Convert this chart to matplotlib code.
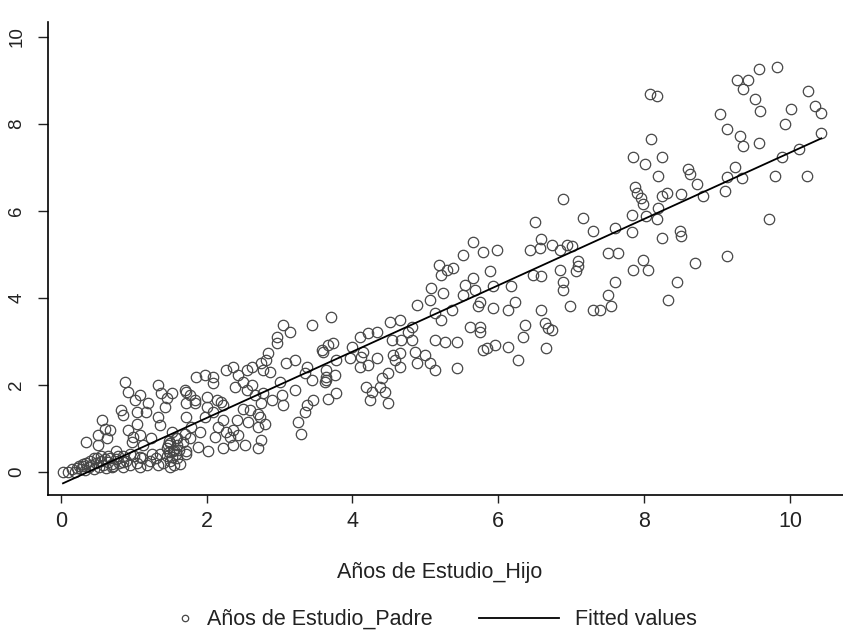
import matplotlib
matplotlib.use('Agg')
import matplotlib.pyplot as plt
import numpy as np
from matplotlib.lines import Line2D

plt.rcParams['font.family'] = ['Liberation Sans', 'DejaVu Sans']

# Años de Estudio_Hijo (x) / Años de Estudio_Padre (y), read region by region
hijo_a = [0.03, 0.1, 0.15, 0.2, 0.22, 0.27, 0.3, 0.33, 0.38, 0.42, 0.45, 0.48, 0.52, 0.55, 0.58,
          0.62, 0.65, 0.68, 0.72, 0.75, 0.8, 0.85, 0.9, 0.95, 1.0, 1.05, 1.12, 1.18, 1.25, 1.3,
          1.4, 1.45, 1.48, 1.5, 1.55, 1.58, 1.6, 0.45, 0.55, 0.4, 0.3, 0.65, 0.85, 0.7,
          1.45, 1.5, 1.55, 1.6, 1.48, 1.58, 1.62, 0.5, 0.6, 0.7, 0.78, 0.35, 0.25]
padre_a = [0.0, 0.0, 0.05, 0.0, 0.08, 0.05, 0.12, 0.03, 0.1, 0.15, 0.05, 0.2, 0.1, 0.25, 0.15,
           0.08, 0.22, 0.3, 0.12, 0.28, 0.2, 0.1, 0.25, 0.15, 0.35, 0.2, 0.3, 0.15, 0.4, 0.3,
           0.2, 0.35, 0.45, 0.25, 0.15, 0.4, 0.3, 0.3, 0.35, 0.25, 0.18, 0.35, 0.35, 0.1,
           0.55, 0.65, 0.5, 0.6, 0.7, 0.78, 0.5, 0.3, 0.28, 0.18, 0.35, 0.2, 0.12]

hijo_b = [0.35, 0.51, 0.56, 0.6, 0.67, 0.51, 0.63, 0.88, 0.92, 1.02, 1.08, 0.83, 0.85, 1.04, 1.19,
          1.17, 0.92, 1.04, 0.99, 1.08, 0.97, 1.13, 1.24, 1.33, 1.38, 1.45, 1.52, 1.43, 1.72, 1.33,
          1.36, 1.52, 1.59, 1.7, 1.68, 1.47, 1.36, 1.52, 1.22, 1.08, 0.95, 0.85, 0.76, 1.08, 1.33,
          1.54, 1.63, 1.72, 1.5]
padre_b = [0.68, 0.6, 1.18, 0.99, 0.95, 0.83, 0.76, 2.06, 1.83, 1.64, 1.75, 1.41, 1.29, 1.37, 1.57,
           1.37, 0.95, 1.1, 0.79, 0.83, 0.68, 0.6, 0.76, 1.99, 1.8, 1.69, 1.8, 1.49, 1.83, 1.25,
           1.06, 0.91, 0.76, 0.87, 0.68, 0.6, 0.41, 0.33, 0.25, 0.33, 0.41, 0.21, 0.48, 0.1, 0.14,
           0.48, 0.18, 0.41, 0.1]

hijo_c = [3.05, 3.14, 3.44, 2.96, 2.96, 3.66, 3.73, 3.6, 2.84, 2.82, 2.75, 2.77, 2.87, 3.09, 3.21,
          3.37, 3.35, 3.44, 3.64, 3.78, 3.64, 2.27, 2.36, 2.55, 2.62, 2.43, 2.5, 1.86, 1.98, 2.09,
          2.09, 1.7, 1.77, 1.84, 2.0, 2.14, 2.2, 2.39, 2.55, 2.62, 2.66, 2.77, 2.75, 2.89, 3.0,
          3.03, 3.21, 3.46, 3.37, 3.66, 3.78, 3.05, 3.35, 3.25, 3.3, 2.5, 2.59, 2.7, 2.22, 2.22,
          2.41, 2.57, 2.73, 2.8, 2.7, 2.15, 2.11, 2.27, 2.36, 2.32, 2.43, 2.52, 2.36, 2.22, 2.75,
          2.7, 1.72, 1.72, 1.79, 1.91, 1.77, 1.88, 1.72, 2.02, 1.84, 2.0, 1.98, 2.09]
padre_c = [3.37, 3.22, 3.37, 3.1, 2.95, 2.91, 2.95, 2.75, 2.72, 2.56, 2.49, 2.33, 2.29, 2.49, 2.56,
           2.41, 2.26, 2.1, 2.33, 2.56, 2.1, 2.33, 2.41, 2.33, 2.41, 2.22, 2.06, 2.18, 2.22, 2.18,
           2.03, 1.87, 1.76, 1.64, 1.72, 1.64, 1.6, 1.95, 1.87, 1.99, 1.76, 1.8, 1.57, 1.64, 2.06,
           1.76, 1.87, 1.64, 1.52, 1.68, 1.8, 1.52, 1.37, 1.14, 0.87, 1.45, 1.41, 1.33, 1.52, 1.18,
           1.18, 1.14, 1.26, 1.1, 1.02, 1.02, 0.79, 0.91, 0.95, 0.79, 0.83, 0.6, 0.6, 0.53, 0.72,
           0.53, 1.57, 1.25, 1.02, 0.91, 0.76, 0.56, 0.48, 0.48, 1.57, 1.49, 1.25, 1.37]

hijo_d = [5.18, 5.29, 5.38, 5.22, 5.08, 5.24, 5.06, 4.88, 5.13, 5.22, 5.36, 3.71, 4.51, 4.65, 4.81,
          4.76, 4.33, 4.21, 4.1, 4.54, 4.67, 4.81, 5.13, 5.27, 5.43, 3.58, 3.99, 4.14, 4.12, 3.96,
          4.33, 4.56, 4.65, 4.86, 4.99, 4.88, 5.06, 5.13, 5.43, 4.65, 4.58, 4.1, 4.21, 4.49, 4.4,
          3.64, 3.76, 3.62, 4.19, 4.38, 4.44, 4.27, 4.24, 4.49]
padre_d = [4.76, 4.64, 4.69, 4.53, 4.22, 4.11, 3.95, 3.83, 3.65, 3.49, 3.72, 3.56, 3.45, 3.49, 3.33,
           3.22, 3.22, 3.19, 3.1, 3.03, 3.03, 3.03, 3.03, 2.99, 2.99, 2.8, 2.87, 2.75, 2.64, 2.61,
           2.61, 2.68, 2.72, 2.75, 2.68, 2.49, 2.49, 2.33, 2.38, 2.41, 2.56, 2.41, 2.45, 2.26, 2.15,
           2.18, 2.22, 2.06, 1.95, 1.95, 1.83, 1.83, 1.64, 1.57]

hijo_e = [6.89, 6.5, 7.16, 7.3, 5.65, 5.79, 5.98, 5.51, 6.43, 6.57, 6.59, 6.73, 6.85, 6.94, 7.01,
          7.09, 7.09, 7.07, 5.88, 5.65, 6.47, 6.59, 6.85, 6.89, 6.89, 5.54, 5.68, 5.93, 6.18, 5.51,
          5.75, 5.72, 5.93, 6.13, 6.23, 6.59, 6.98, 7.3, 7.39, 5.61, 5.75, 5.75, 6.36, 6.34, 6.64,
          6.68, 6.73, 5.79, 5.84, 5.95, 6.13, 6.66, 6.27]
padre_e = [6.26, 5.73, 5.84, 5.53, 5.27, 5.06, 5.1, 4.99, 5.1, 5.15, 5.34, 5.22, 5.1, 5.22, 5.18,
           4.84, 4.72, 4.61, 4.61, 4.46, 4.53, 4.49, 4.64, 4.37, 4.18, 4.3, 4.18, 4.26, 4.26, 4.06,
           3.91, 3.8, 3.76, 3.72, 3.91, 3.72, 3.8, 3.72, 3.72, 3.33, 3.33, 3.22, 3.37, 3.1, 3.42,
           3.3, 3.26, 2.8, 2.84, 2.91, 2.87, 2.84, 2.56]

hijo_f = [8.08, 8.17, 9.04, 9.13, 8.1, 7.85, 8.01, 8.24, 8.19, 8.6, 8.63, 8.72, 7.87, 7.9, 7.96,
          7.98, 8.31, 8.24, 8.51, 8.81, 9.13, 9.11, 8.19, 7.83, 8.03, 8.17, 7.6, 7.83, 8.49, 8.51,
          8.24, 7.5, 7.64, 7.98, 8.05, 7.85, 8.7, 9.13, 7.6, 8.45, 7.5, 8.33, 7.55]
padre_f = [8.68, 8.65, 8.22, 7.88, 7.64, 7.23, 7.07, 7.23, 6.8, 6.95, 6.84, 6.61, 6.54, 6.42, 6.3,
           6.15, 6.42, 6.34, 6.38, 6.34, 6.78, 6.46, 6.07, 5.91, 5.88, 5.8, 5.61, 5.5, 5.53, 5.41,
           5.38, 5.03, 5.03, 4.87, 4.64, 4.64, 4.8, 4.95, 4.37, 4.37, 4.06, 3.95, 3.8]

hijo_g = [9.57, 9.82, 9.27, 9.43, 9.36, 10.25, 9.52, 9.59, 10.02, 10.34, 10.43, 9.93, 9.31, 9.36,
          9.57, 10.43, 10.13, 9.89, 9.25, 9.34, 9.79, 10.23, 9.71]
padre_g = [9.26, 9.3, 9.0, 9.0, 8.8, 8.76, 8.57, 8.3, 8.34, 8.41, 8.26, 8.0, 7.73, 7.5,
           7.57, 7.8, 7.42, 7.24, 7.0, 6.76, 6.8, 6.8, 5.8]

hijo = np.array(hijo_a + hijo_b + hijo_c + hijo_d + hijo_e + hijo_f + hijo_g)
padre = np.array(padre_a + padre_b + padre_c + padre_d + padre_e + padre_f + padre_g)

ticks = [0, 2, 4, 6, 8, 10]
ink = '#222222'
mark = '#474747'

fig = plt.figure(figsize=(8.43, 6.42), dpi=100)
ax = fig.add_axes([47.7 / 843, 1 - 495 / 642, 1 - 47.7 / 843, 473.3 / 642])

ax.plot(hijo, padre, 'o', ms=7.5, mfc='none', mec=mark, mew=0.9, zorder=2)

# linear fit (Stata lfit)
b, a = np.polyfit(hijo, padre, 1)
xf = np.array([hijo.min(), hijo.max()])
ax.plot(xf, a + b * xf, color='black', lw=1.3, zorder=3)

ax.set_xlim(-0.18, 10.727)
ax.set_ylim(-0.54, 10.35)
ax.set_xticks(ticks)
ax.set_yticks(ticks)
for s in ['top', 'right']:
    ax.spines[s].set_visible(False)
for s in ['left', 'bottom']:
    ax.spines[s].set_linewidth(1.2)
ax.tick_params(direction='out', width=1, colors=ink)
ax.tick_params(axis='x', labelsize=15.5, length=5.5, pad=6)
ax.tick_params(axis='y', labelsize=13.5, length=7, pad=9, labelrotation=90)
for lab in ax.get_yticklabels():
    lab.set_va('center')

ax.set_xlabel('Años de Estudio_Hijo', fontsize=15.5, color=ink)
ax.xaxis.set_label_coords(0.4933, -0.176)
ax.xaxis.label.set_va('baseline')

h1 = Line2D([], [], ls='none', marker='o', ms=4.6, mfc='none', mec=mark, mew=0.9)
h2 = Line2D([], [], color='black', lw=1.3)
leg1 = fig.legend([h1], ['Años de Estudio_Padre'], loc='center', bbox_to_anchor=(303.6 / 843, 1 - 619.6 / 642),
                  frameon=False, fontsize=15.5, handlelength=1.0, handletextpad=0.5)
leg2 = fig.legend([h2], ['Fitted values'], loc='center', bbox_to_anchor=(587.8 / 843, 1 - 619.6 / 642),
                  frameon=False, fontsize=15.5, handlelength=3.72, handletextpad=0.74)
for lg in (leg1, leg2):
    for t in lg.get_texts():
        t.set_color(ink)

fig.savefig('out.png', dpi=100, facecolor='white')
